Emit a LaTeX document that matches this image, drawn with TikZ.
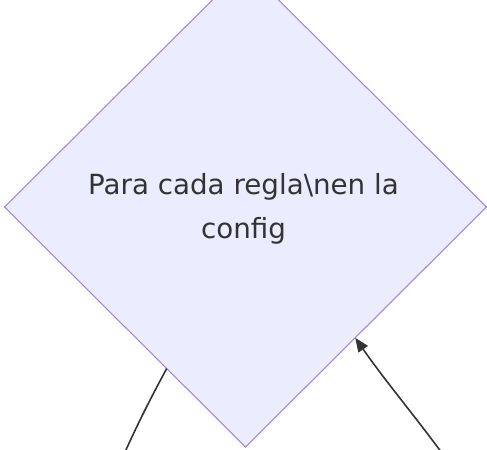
\documentclass[tikz,border=0pt]{standalone}
\usepackage{fontspec}
\setmainfont{DejaVu Sans}
\usetikzlibrary{shapes.geometric,arrows.meta}
\definecolor{nodefill}{HTML}{ECECFF}
\definecolor{nodeline}{HTML}{9370DB}
\definecolor{ink}{HTML}{333333}
\tikzset{
  decision/.style={diamond, draw=nodeline!85, fill=nodefill, line width=0.8pt,
    inner sep=0pt, outer sep=0pt, minimum width=361.5pt, minimum height=360pt},
  label text/.style={text=ink, align=center, font=\fontsize{20.8pt}{33pt}\selectfont},
  link/.style={draw=ink, line width=1.2pt},
  linkarrow/.style={link, -{Triangle[length=10.5pt,width=8.5pt]}}
}
\begin{document}
\begin{tikzpicture}[x=0.75pt,y=-0.75pt]
\useasboundingbox (0,0) rectangle (487,450);
\clip (0,0) rectangle (487,450);
\node[decision] (d) at (245.5,207) {};
\node[label text] (t) at (243.5,208.5) {Para cada regla\textbackslash nen la\\config};
\coordinate (a) at (117,470);
\coordinate (b) at (454,470);
\draw[link] (d.-116) .. controls (154,392) and (138,422) .. (a);
\draw[linkarrow] (b) .. controls (425,428) and (388,385) .. (d.-50.7);
\end{tikzpicture}
\end{document}
